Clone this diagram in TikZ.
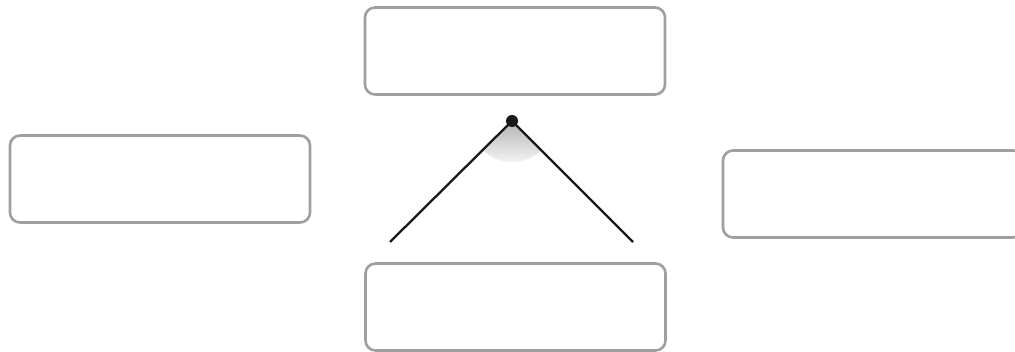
\documentclass[tikz,border=0pt]{standalone}
\usepackage{tikz}
\usetikzlibrary{positioning}

\begin{document}
\begin{tikzpicture}[
  x=1pt, y=-1pt,
  panel/.style={draw=gray!75, line width=2.6pt, rounded corners=10pt, minimum width=300pt, minimum height=87pt, fill=white},
  leg/.style={draw=black!90, line width=2.3pt},
  hinge/.style={circle, fill=black!90, inner sep=0pt, minimum size=12pt}
]
\useasboundingbox (0,0) rectangle (1015,352);
\node[panel] (top) at (515,51) {};
\node[panel] (left) at (160,179) {};
\node[panel] (right) at (873,194) {};
\node[panel] (bottom) at (515.5,307) {};

\coordinate (apex) at (512,121);
\coordinate (footL) at (390,242);
\coordinate (footR) at (633,242);

% shaded angle under the apex
\begin{scope}
  \clip (apex) -- ++(-29,29) arc[start angle=135, end angle=45, radius=41] -- cycle;
  \shade[top color=gray!60, bottom color=gray!8] (470,121) rectangle (554,163);
\end{scope}

\draw[leg] (apex) -- (footL);
\draw[leg] (apex) -- (footR);
\node[hinge] (pin) at (apex) {};
\end{tikzpicture}
\end{document}
